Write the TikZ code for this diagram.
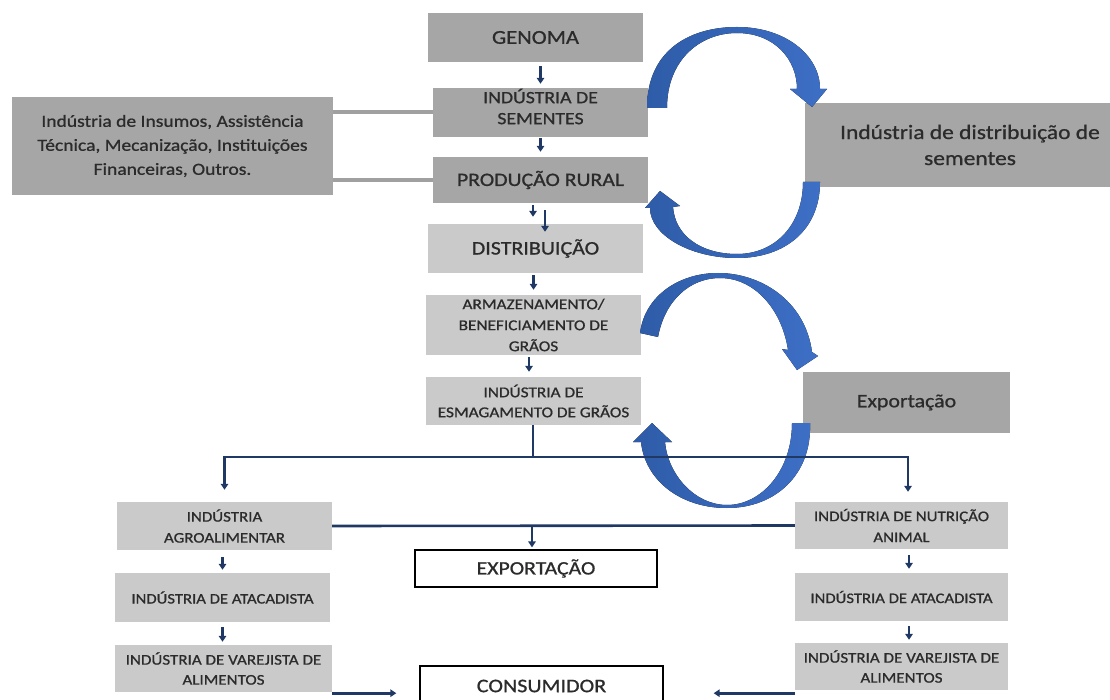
\documentclass[tikz,border=0pt]{standalone}
\usepackage{fontspec}
\setmainfont{Carlito}[FakeStretch=1.15,FakeBold=0.9]
\usetikzlibrary{arrows.meta}
\definecolor{boxdark}{HTML}{A6A6A6}
\definecolor{boxlight}{HTML}{CACACA}
\definecolor{navy}{HTML}{1F3864}
\definecolor{lgray}{HTML}{A0A0A0}
\definecolor{txt}{HTML}{2B2B2B}
\definecolor{blueA}{HTML}{2E5CA8}
\definecolor{blueB}{HTML}{6A93DA}
\definecolor{blueC}{HTML}{3D6FC6}
\newcommand\fsz[2]{\fontsize{#1}{#2}\selectfont}
\begin{document}
\begin{tikzpicture}[x=1pt,y=-1pt,
 box/.style={rectangle, inner sep=0pt, align=center, text=txt},
 dbox/.style={box, fill=boxdark},
 lbox/.style={box, fill=boxlight},
 wbox/.style={box, fill=white, draw=black, line width=1.3pt},
 nav/.style={draw=navy, line width=2.6pt},
 nar/.style={nav, -{Triangle[width=7.5pt,length=6pt]}},
 gline/.style={draw=lgray, line width=4pt},
 blu/.style={left color=blueA, middle color=blueB, right color=blueC, draw=none}]
\useasboundingbox (0,0) rectangle (1110,700);
% center column
\node[dbox, minimum width=215pt, minimum height=49pt, font=\fsz{19.6}{22}] (genoma) at (535.5,37.5) {GENOMA};
\node[dbox, minimum width=215pt, minimum height=49pt, font=\fsz{17.2}{21}, text depth=12pt] (sementes) at (540.5,112.5) {INDÚSTRIA DE\\SEMENTES};
\node[dbox, minimum width=215pt, minimum height=46pt, font=\fsz{18.9}{22}] (producao) at (540.5,180) {PRODUÇÃO RURAL};
\node[lbox, minimum width=215pt, minimum height=49pt, font=\fsz{19.1}{22}] (distrib) at (535.5,248.5) {DISTRIBUIÇÃO};
\node[lbox, minimum width=215pt, minimum height=60pt, font=\fsz{15}{21}] (armaz) at (533.5,325) {ARMAZENAMENTO/\\BENEFICIAMENTO DE\\GRÃOS};
\node[lbox, minimum width=215pt, minimum height=48pt, font=\fsz{15}{20}] (esmag) at (533.5,401) {INDÚSTRIA DE\\ESMAGAMENTO DE GRÃOS};
% side boxes
\node[dbox, minimum width=321pt, minimum height=98pt, font=\fsz{17}{24}] (insumos) at (172.5,146) {Indústria de Insumos, Assistência\\Técnica, Mecanização, Instituições\\Financeiras, Outros.};
\node[dbox, minimum width=330pt, minimum height=84pt, font=\fsz{20.4}{26}] (distsem) at (970,145) {Indústria de distribuição de\\sementes};
\node[dbox, minimum width=207pt, minimum height=61pt, font=\fsz{19}{22}] (exportd) at (906.5,402.5) {Exportação};
% lower left column
\node[lbox, minimum width=215pt, minimum height=48pt, font=\fsz{14.7}{21}] (agro) at (224.5,526) {INDÚSTRIA\\AGROALIMENTAR};
\node[lbox, minimum width=215pt, minimum height=49pt, font=\fsz{14.5}{20}] (atacl) at (222.5,597.5) {INDÚSTRIA DE ATACADISTA};
\node[lbox, minimum width=217pt, minimum height=47pt, font=\fsz{14.8}{20}] (varl) at (223.5,668.5) {INDÚSTRIA DE VAREJISTA DE\\ALIMENTOS};
% lower right column
\node[lbox, minimum width=213pt, minimum height=47pt, font=\fsz{14.7}{21}] (nutri) at (901.5,525.5) {INDÚSTRIA DE NUTRIÇÃO\\ANIMAL};
\node[lbox, minimum width=213pt, minimum height=48pt, font=\fsz{14.5}{20}] (atacr) at (901.5,597) {INDÚSTRIA DE ATACADISTA};
\node[lbox, minimum width=213pt, minimum height=47pt, font=\fsz{14.8}{20}] (varr) at (901.5,666.5) {INDÚSTRIA DE VAREJISTA DE\\ALIMENTOS};
% white boxes
\node[wbox, minimum width=242pt, minimum height=37pt, font=\fsz{18.9}{22}] (exportw) at (536,568.5) {EXPORTAÇÃO};
\node[wbox, minimum width=243pt, minimum height=40pt, font=\fsz{19.2}{22}] (consum) at (541.5,686) {CONSUMIDOR};
% blue circular arrows
\fill[blu] (647,108) .. controls (647,50) and (690,27) .. (737,27) .. controls (785,27) and (820,55) .. (820,89) -- (827,89) -- (812,107) -- (790,89) -- (797,89) .. controls (797,60) and (775,33) .. (737,33) .. controls (700,33) and (667,60) .. (667,108) -- cycle;
\fill[blu] (820,182) .. controls (820,230) and (785,258) .. (737,258) .. controls (690,258) and (650,235) .. (650,208) -- (645,208) -- (660,191) -- (680,206) -- (673,207) .. controls (675,235) and (700,254) .. (737,254) .. controls (775,254) and (803,225) .. (803,182) -- cycle;
\fill[blu] (640,333) .. controls (645,295) and (680,273) .. (718,273) .. controls (760,273) and (805,300) .. (812,352) -- (818,356) -- (797,370) -- (782,349) -- (788,350) .. controls (782,310) and (755,278) .. (720,278) .. controls (690,278) and (665,300) .. (658,337) -- cycle;
\fill[blu] (810,423) .. controls (812,475) and (775,508) .. (727,508) .. controls (680,508) and (645,480) .. (641,442) -- (633,442) -- (652,423) -- (672,442) -- (665,442) .. controls (668,475) and (695,505) .. (727,505) .. controls (762,505) and (792,470) .. (792,423) -- cycle;
% gray links
\draw[gline] (insumos.east |- sementes.west) -- (sementes.west);
\draw[gline] (insumos.east |- producao.west) -- (producao.west);
% navy connectors, center column
\draw[nar, shorten <=4pt, shorten >=4pt] (genoma.south -| sementes.north) -- (sementes.north);
\draw[nar, shorten <=1pt, shorten >=5pt] (sementes.south) -- (producao.north);
\draw[nar] ([xshift=-7.5pt,yshift=-2pt]producao.south) -- ([xshift=-2.5pt,yshift=7pt]distrib.north);
\draw[nar] ([xshift=4.5pt,yshift=-7pt]producao.south) -- ([xshift=9.5pt,yshift=-8pt]distrib.north);
\draw[nar, shorten <=2pt, shorten >=5pt] (distrib.south -| armaz.north) -- (armaz.north);
\draw[nar, shorten <=2pt, shorten >=5pt] ([xshift=-4.5pt]armaz.south) -- ([xshift=-4.5pt]esmag.north);
% split
\coordinate (split) at (533,457);
\draw[nav] (esmag.south -| split) -- (split);
\draw[nar, shorten >=12pt] (split) -| (agro.north);
\draw[nar, shorten >=10pt] (split) -| ([xshift=6.5pt]nutri.north);
% bottom links
\draw[nav] (agro.east) -- (nutri.west);
\draw[nar, shorten >=2pt] ([xshift=-4pt]exportw.north |- agro.east) -- ([xshift=-4pt]exportw.north);
\draw[nar, shorten <=7pt, shorten >=3pt] (agro.south -| atacl.north) -- (atacl.north);
\draw[nar, shorten <=5pt, shorten >=3pt] (atacl.south) -- (atacl.south |- varl.north);
\draw[nar, shorten <=6pt, shorten >=4pt] ([xshift=7.5pt]nutri.south) -- ([xshift=7.5pt]atacr.north);
\draw[nar, shorten <=5pt, shorten >=3pt] ([xshift=7.5pt]atacr.south) -- ([xshift=7.5pt]varr.north);
\draw[nar, shorten >=23pt] ([yshift=-1pt]varl.south east) -- ([yshift=-1pt]varl.south east -| consum.west);
\draw[nar, shorten >=50pt] ([yshift=-3pt]varr.south west) -- ([yshift=-3pt]varr.south west -| consum.east);
\end{tikzpicture}
\end{document}
